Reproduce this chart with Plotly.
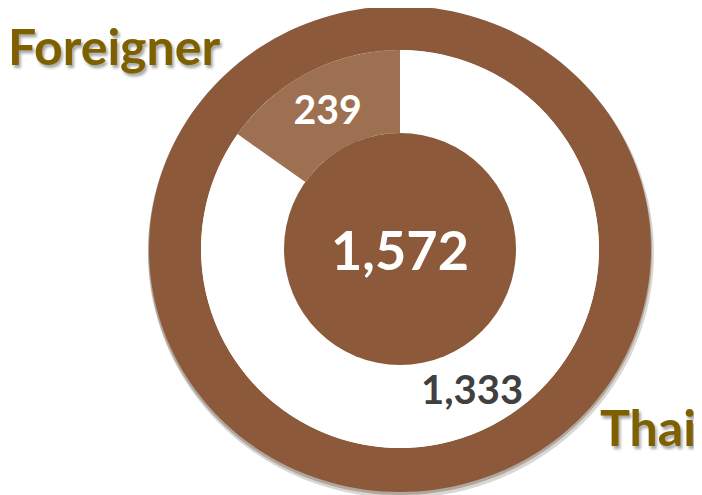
import math
import plotly.graph_objects as go

categories = ["Thai", "Foreigner"]
values = [1333, 239]
total = sum(values)

BROWN = "#8C5A3A"
LIGHT = "#9E7052"
GOLD = "#7F6000"
FONT = "Lato"

# page body has an 8px margin, so the figure is drawn 8px in
W, H = 694, 487
CX, CY = 392, 241          # pie centre (px, from top-left of figure)
RX_OUT, RY_OUT = 251, 243  # outer ring (slightly elliptical)
R_RING_IN = 199
R_HOLE = 116


def dom(cx, cy, r):
    return dict(x=[(cx - r) / W, (cx + r) / W],
                y=[(H - cy - r) / H, (H - cy + r) / H])


def px(x, y):
    return x / W, 1 - y / H


def ellipse_path(cx, cy, rx, ry, n=180):
    pts = []
    for i in range(n):
        a = 2 * math.pi * i / n
        x, y = px(cx + rx * math.cos(a), cy + ry * math.sin(a))
        pts.append(f"{x:.5f},{y:.5f}")
    return "M" + " L".join(pts) + " Z"


fig = go.Figure()

# outer ring: soft shadow then ring (even-odd filled annulus)
for dx, dy, grow, col in [(1, 4, 2, "rgba(50,25,5,0.18)"), (0, 2, 1, "rgba(50,25,5,0.25)"),
                          (0, 0, 0, BROWN)]:
    path = (ellipse_path(CX + dx, CY + dy, RX_OUT + grow, RY_OUT + grow)
            + " " + ellipse_path(CX, CY, R_RING_IN, R_RING_IN))
    fig.add_shape(type="path", xref="paper", yref="paper", path=path,
                  fillcolor=col, fillrule="evenodd", line=dict(width=0), layer="below")

# inner split
fig.add_trace(go.Pie(labels=categories, values=values, hole=R_HOLE / R_RING_IN, sort=False,
                     direction="clockwise", rotation=0,
                     marker=dict(colors=["#FFFFFF", LIGHT], line=dict(width=0)),
                     texttemplate=["", "%{value:,}"], textposition="inside",
                     insidetextorientation="horizontal",
                     insidetextfont=dict(family=FONT, size=40, color="#FFFFFF", weight="bold"),
                     hoverinfo="label+value",
                     domain=dom(CX, CY, R_RING_IN)))

# Thai value label at the middle of its slice
mid = values[0] / total * 180.0  # degrees clockwise from 12 o'clock
rl = (R_HOLE + R_RING_IN) / 2
lx = CX + rl * math.sin(math.radians(mid))
ly = CY - rl * math.cos(math.radians(mid))
ax_, ay_ = px(lx, ly)
fig.add_annotation(text=f"{values[0]:,}", x=ax_, y=ay_, xref="paper", yref="paper",
                   xanchor="center", yanchor="middle", showarrow=False,
                   font=dict(family=FONT, size=40, color="#404040", weight="bold"))

# center disk with total
fig.add_trace(go.Pie(values=[total], sort=False,
                     marker=dict(colors=[BROWN], line=dict(width=0)),
                     texttemplate="%{value:,}", textposition="inside",
                     insidetextfont=dict(family=FONT, size=54, color="#FFFFFF", weight="bold"),
                     hoverinfo="skip",
                     domain=dom(CX, CY, R_HOLE)))

shadow = "2px 3px 3px rgba(0,0,0,0.35)"
fx, fy = px(-2, 38)
fig.add_annotation(text=categories[1], x=fx, y=fy, xref="paper", yref="paper",
                   xanchor="left", yanchor="middle", showarrow=False,
                   font=dict(family=FONT, size=50, color=GOLD, weight="bold", shadow=shadow))
tx, ty = px(690, 419)
fig.add_annotation(text=categories[0], x=tx, y=ty, xref="paper", yref="paper",
                   xanchor="right", yanchor="middle", showarrow=False,
                   font=dict(family=FONT, size=50, color=GOLD, weight="bold", shadow=shadow))

fig.update_layout(width=W, height=H, margin=dict(l=0, r=0, t=0, b=0),
                  paper_bgcolor="white", plot_bgcolor="white", showlegend=False)

fig.write_html("out.html")
